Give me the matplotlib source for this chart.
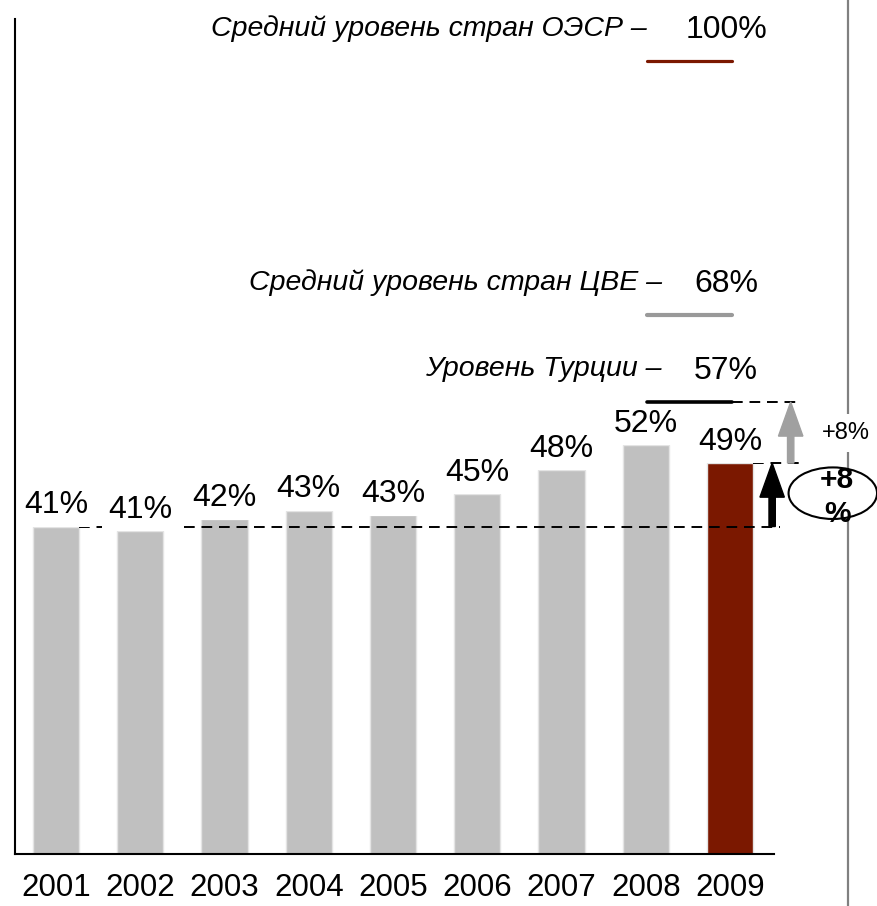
import matplotlib
matplotlib.use("Agg")
from matplotlib import pyplot as plt
from matplotlib.patches import Ellipse, FancyArrow

plt.rcParams['font.family'] = ['Liberation Sans', 'DejaVu Sans']

# data
years = ['2001', '2002', '2003', '2004', '2005', '2006', '2007', '2008', '2009']
values = [41.3, 40.7, 42.2, 43.3, 42.7, 45.4, 48.4, 51.6, 49.3]
value_labels = ['41%', '41%', '42%', '43%', '43%', '45%', '48%', '52%', '49%']

ref_names = ['Средний уровень стран ОЭСР –', 'Средний уровень стран ЦВЕ –', 'Уровень Турции –']
ref_labels = ['100%', '68%', '57%']
ref_levels = [100, 68, 57]

growth_label = '+8%'
growth_bold = '+8\n%'

grey = '#c0c0c0'
red = '#7b1800'
bar_colors = [grey] * 8 + [red]
ref_colors = [red, '#999999', 'black']
ref_widths = [2.3, 3.0, 2.6]

fig = plt.figure(figsize=(8.77, 9.06), dpi=100)
ax = fig.add_axes([15 / 877, 52 / 906, 759 / 877, 835 / 906])

x = list(range(len(years)))
ax.bar(x, values, width=0.55, color=bar_colors, edgecolor='#e4e4e4', linewidth=1, zorder=2)

for xi, v, lab in zip(x, values, value_labels):
    ax.annotate(lab, (xi, v), xytext=(0, 9.5), textcoords='offset points',
                ha='center', va='baseline', fontsize=23, zorder=5,
                bbox=dict(boxstyle='square,pad=0.2', fc='white', ec='none'))

ax.set_xlim(-0.487, 8.522)
ax.set_ylim(0, 105.3)

# reference levels
for name, lab, lev, c, lw in zip(ref_names, ref_labels, ref_levels, ref_colors, ref_widths):
    ax.plot([7.015, 8.02], [lev, lev], color=c, lw=lw, solid_capstyle='round', clip_on=False, zorder=6)
    ax.annotate(lab, (8.02, lev), xytext=(-4, 22), textcoords='offset points',
                ha='center', va='center', fontsize=23, annotation_clip=False)
    ax.annotate(name, (7.19 if lev < 100 else 7.015, lev), xytext=(0, 23.5), textcoords='offset points',
                ha='right', va='center', fontsize=20.5, style='italic', annotation_clip=False)

# dashed guides
turkey = ref_levels[2]
dash = (0, (5.5, 3.5))
ax.plot([0.273, 8.59], [values[0], values[0]], color='black', lw=1.4, ls=dash, zorder=3, clip_on=False)
ax.plot([8.27, 8.83], [values[-1], values[-1]], color='black', lw=1.4, ls=dash, zorder=3, clip_on=False)
ax.plot([8.02, 8.80], [turkey, turkey], color='black', lw=1.4, ls=dash, zorder=3, clip_on=False)

# arrows
ax.add_patch(FancyArrow(8.50, values[0], 0, values[-1] - values[0], width=0.075, head_width=0.29,
                        head_length=4.3, length_includes_head=True, color='black', clip_on=False, zorder=4))
ax.add_patch(FancyArrow(8.72, values[-1], 0, turkey - values[-1], width=0.075, head_width=0.29,
                        head_length=4.3, length_includes_head=True, color='#a0a0a0', clip_on=False, zorder=4))

# right separator line
ax.plot([848 / 877, 848 / 877], [0, 1], transform=fig.transFigure, color='#808080', lw=1.6,
        clip_on=False, zorder=0)

ax.text(9.38, 53.1, growth_label, ha='center', va='center', fontsize=17, zorder=5, clip_on=False,
        bbox=dict(boxstyle='square,pad=0.35', fc='white', ec='none'))
ax.add_patch(Ellipse((9.22, 45.5), 1.05, 6.5, fc='white', ec='black', lw=1.5, clip_on=False, zorder=4))
ax.text(9.27, 45.0, growth_bold, ha='center', va='center', fontsize=21.5, fontweight='bold',
        linespacing=1.3, zorder=5, clip_on=False)

ax.set_xticks(x)
ax.set_xticklabels(years, fontsize=22.5)
ax.tick_params(axis='x', length=0, pad=14)
ax.set_yticks([])
ax.spines['top'].set_visible(False)
ax.spines['right'].set_visible(False)
ax.spines['left'].set_linewidth(1.5)
ax.spines['bottom'].set_linewidth(1.5)

plt.savefig('out.png', dpi=100)
